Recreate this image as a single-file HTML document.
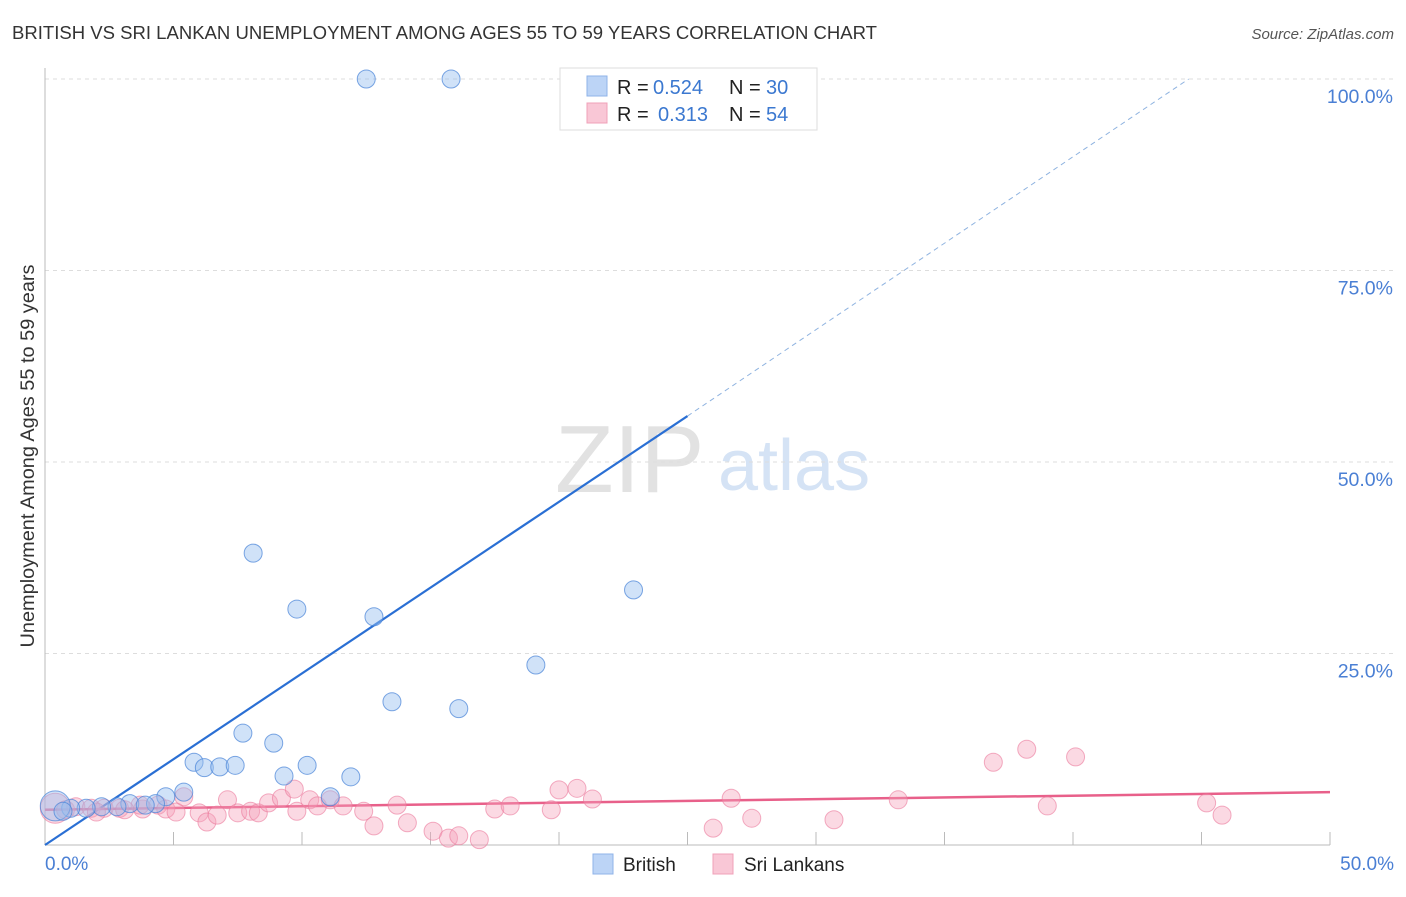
<!DOCTYPE html>
<html><head><meta charset="utf-8"><style>
body{margin:0;background:#fff;font-family:"Liberation Sans",sans-serif}
svg text{font-family:"Liberation Sans",sans-serif}
</style></head><body>
<svg id="c" width="1406" height="892" xmlns="http://www.w3.org/2000/svg">
<text x="12" y="39" font-size="18" fill="#333" textLength="865" lengthAdjust="spacingAndGlyphs">BRITISH VS SRI LANKAN UNEMPLOYMENT AMONG AGES 55 TO 59 YEARS CORRELATION CHART</text>
<text x="1394" y="39" font-size="15" fill="#555" font-style="italic" text-anchor="end">Source: ZipAtlas.com</text>
<g>
<text x="555" y="492" font-size="96" font-family="Liberation Serif" fill="#e2e2e2">ZIP</text>
<text x="718" y="490" font-size="72" fill="#d5e3f5">atlas</text>
</g>
<g id="grid"></g>
<g id="axes"></g>
<g id="lines"></g>
<g id="pts"></g>
<text x="34" y="456" font-size="19" fill="#333" text-anchor="middle" textLength="383" lengthAdjust="spacingAndGlyphs" transform="rotate(-90 34 456)">Unemployment Among Ages 55 to 59 years</text>
<text x="45" y="870" font-size="19" fill="#4a7fd4">0.0%</text>
<text x="1394" y="870" font-size="19" fill="#4a7fd4" text-anchor="end">50.0%</text>
<g>
<rect x="560" y="68" width="257" height="62" fill="#fff" stroke="#ddd"/>
<rect x="587" y="76" width="20" height="20" fill="#bcd4f6" stroke="#8fb3e8"/>
<rect x="587" y="103" width="20" height="20" fill="#f9c7d6" stroke="#f0a0b8"/>
<text x="617" y="94" font-size="20" fill="#222">R =</text>
<text x="653" y="94" font-size="20" fill="#3b78d0">0.524</text>
<text x="729" y="94" font-size="20" fill="#222">N =</text>
<text x="766" y="94" font-size="20" fill="#3b78d0">30</text>
<text x="617" y="121" font-size="20" fill="#222">R =</text>
<text x="658" y="121" font-size="20" fill="#3b78d0">0.313</text>
<text x="729" y="121" font-size="20" fill="#222">N =</text>
<text x="766" y="121" font-size="20" fill="#3b78d0">54</text>
</g>
<g>
<rect x="593" y="854" width="20" height="20" fill="#bcd4f6" stroke="#8fb3e8"/>
<text x="623" y="871" font-size="19" fill="#222">British</text>
<rect x="713" y="854" width="20" height="20" fill="#f9c7d6" stroke="#f0a0b8"/>
<text x="744" y="871" font-size="19" fill="#222">Sri Lankans</text>
</g>
</svg>
<script>
const yTicks=[25,50,75,100];
const yTickLabels=["25.0%","50.0%","75.0%","100.0%"];
const xTicks=[5,10,15,20,25,30,35,40,45,50];
const britishX=[12.5,15.8,8.1,9.8,12.8,22.9,19.1,13.5,16.1,7.7,8.9,5.8,6.2,6.8,7.4,10.2,9.3,11.9,5.4,4.7,11.1,4.3,3.3,2.8,2.2,1.6,1.0,0.4,0.7,3.9];
const britishY=[100,100,38.1,30.8,29.8,33.3,23.5,18.7,17.8,14.6,13.3,10.8,10.1,10.2,10.4,10.4,9.0,8.9,6.9,6.3,6.3,5.4,5.4,5.0,5.0,4.8,4.8,5.1,4.4,5.2];
const sriX=[0.4,0.8,1.2,1.8,2.3,2.9,3.8,4.4,4.7,5.1,5.4,6.0,6.3,6.7,7.1,7.5,8.0,8.3,8.7,9.2,9.7,9.8,10.3,10.6,11.1,11.6,12.4,12.8,13.7,14.1,15.1,15.7,16.1,16.9,17.5,18.1,19.7,20.0,20.7,21.3,26.0,26.7,27.5,30.7,33.2,36.9,38.2,39.0,40.1,45.2,45.8,3.7,3.1,2.0];
const sriY=[4.8,4.6,5.0,4.8,4.8,4.8,4.7,5.2,4.7,4.3,6.3,4.2,3.0,3.9,5.9,4.2,4.4,4.2,5.5,6.1,7.3,4.4,5.9,5.1,5.9,5.1,4.4,2.5,5.2,2.9,1.8,0.9,1.2,0.7,4.7,5.1,4.6,7.2,7.4,6.0,2.2,6.1,3.5,3.3,5.9,10.8,12.5,5.1,11.5,5.5,3.9,5.2,4.6,4.3];
const britishTrend=[0,0,25,56,44.5,100];
const sriTrend=[0,4.6,50,6.9];
const NS="http://www.w3.org/2000/svg";
const X=v=>45+v*25.7, Y=v=>845-v*7.66;
function mk(p,t,a){const e=document.createElementNS(NS,t);for(const k in a)e.setAttribute(k,a[k]);p.appendChild(e);return e;}
const grid=document.getElementById('grid'),axes=document.getElementById('axes'),lines=document.getElementById('lines'),pts=document.getElementById('pts');
yTicks.forEach((t,i)=>{
 const l=mk(grid,'line',{x1:45,x2:1394,y1:Y(t),y2:Y(t),stroke:'#ddd','stroke-dasharray':'4,4'});
 
 
 const tx=mk(grid,'text',{x:1393,y:Y(t)+24,'font-size':19.5,fill:'#4a7fd4','text-anchor':'end'});
 tx.textContent=yTickLabels[i];
 
 
});
mk(axes,'line',{x1:45,x2:45,y1:68,y2:845,stroke:'#bbb'});
mk(axes,'line',{x1:45,x2:1330,y1:845,y2:845,stroke:'#bbb'});
xTicks.forEach(t=>{
 const l=mk(axes,'line',{x1:X(t),x2:X(t),y1:832,y2:845,stroke:'#bbb'});
 
 
});
const bt=britishTrend;
let l1=mk(lines,'line',{x1:X(bt[0]),y1:Y(bt[1]),x2:X(bt[2]),y2:Y(bt[3]),stroke:'#2a6fd4','stroke-width':2.2});


let l2=mk(lines,'line',{x1:X(bt[2]),y1:Y(bt[3]),x2:X(bt[4]),y2:Y(bt[5]),stroke:'#8fb3e0','stroke-width':1,'stroke-dasharray':'5,4'});


sriX.forEach((x,i)=>{
 const r=i===0?15:9;
 const c=mk(pts,'circle',{cx:X(x),cy:Y(sriY[i]),r:r,fill:'rgba(245,160,185,0.4)',stroke:'rgba(235,120,155,0.6)','stroke-width':1});
 
 
});
britishX.forEach((x,i)=>{
 const r=i===27?15:9;
 const c=mk(pts,'circle',{cx:X(x),cy:Y(britishY[i]),r:r,fill:'rgba(150,190,240,0.45)',stroke:'rgba(70,130,215,0.7)','stroke-width':1});
 
 
});
const st=sriTrend;
let l3=mk(lines,'line',{x1:X(st[0]),y1:Y(st[1]),x2:X(st[2]),y2:Y(st[3]),stroke:'#e8608a','stroke-width':2.5});


</script>
</body></html>
